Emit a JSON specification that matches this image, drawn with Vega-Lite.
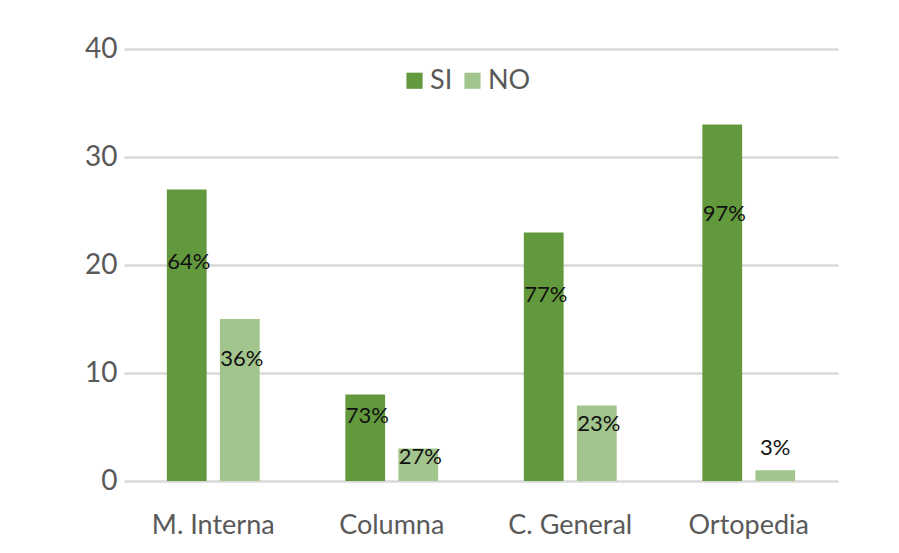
{
  "$schema": "https://vega.github.io/schema/vega-lite/v6.json",
  "width": 714,
  "height": 432,
  "autosize": {"type": "none"},
  "padding": {"left": 124, "top": 49, "right": 61, "bottom": 72},
  "background": "white",
  "config": {
    "font": "Lato",
    "view": {"stroke": null}
  },
  "data": {
    "values": [
      {"servicio": "M. Interna", "respuesta": "SI", "casos": 27, "pct": "64%"},
      {"servicio": "M. Interna", "respuesta": "NO", "casos": 15, "pct": "36%"},
      {"servicio": "Columna", "respuesta": "SI", "casos": 8, "pct": "73%"},
      {"servicio": "Columna", "respuesta": "NO", "casos": 3, "pct": "27%"},
      {"servicio": "C. General", "respuesta": "SI", "casos": 23, "pct": "77%"},
      {"servicio": "C. General", "respuesta": "NO", "casos": 7, "pct": "23%"},
      {"servicio": "Ortopedia", "respuesta": "SI", "casos": 33, "pct": "97%"},
      {"servicio": "Ortopedia", "respuesta": "NO", "casos": 1, "pct": "3%"}
    ]
  },
  "encoding": {
    "x": {
      "field": "servicio",
      "type": "nominal",
      "sort": ["M. Interna", "Columna", "C. General", "Ortopedia"],
      "scale": {"paddingInner": 0.48, "paddingOuter": 0.24},
      "axis": {
        "title": null,
        "labelAngle": 0,
        "domain": false,
        "ticks": false,
        "labelFontSize": 27,
        "labelColor": "#595959",
        "labelPadding": 31
      }
    },
    "xOffset": {
      "field": "respuesta",
      "type": "nominal",
      "sort": ["SI", "NO"],
      "scale": {"paddingInner": 0.25}
    }
  },
  "layer": [
    {
      "mark": {"type": "bar"},
      "encoding": {
        "y": {
          "field": "casos",
          "type": "quantitative",
          "scale": {"domain": [0, 40]},
          "axis": {
            "title": null,
            "values": [0, 10, 20, 30, 40],
            "domain": false,
            "ticks": false,
            "gridColor": "#d9d9d9",
            "gridWidth": 2.5,
            "labelFontSize": 28,
            "labelColor": "#595959",
            "labelPadding": 7
          }
        },
        "color": {
          "field": "respuesta",
          "type": "nominal",
          "sort": ["SI", "NO"],
          "scale": {"domain": ["SI", "NO"], "range": ["#62993c", "#a2c48d"]},
          "legend": {
            "title": null,
            "orient": "none",
            "legendX": 277,
            "legendY": 18,
            "direction": "horizontal",
            "symbolType": "square",
            "symbolSize": 260,
            "symbolStrokeWidth": 0,
            "labelFontSize": 27,
            "labelColor": "#595959",
            "labelOffset": 2,
            "columnPadding": 6
          }
        }
      }
    },
    {
      "transform": [{"filter": "datum.casos > 2"}],
      "mark": {"type": "text", "fontSize": 22, "color": "#111111", "baseline": "middle", "dx": 2},
      "encoding": {
        "y": {
          "field": "casos",
          "type": "quantitative",
          "scale": {"domain": [0, 53.33]},
          "axis": null
        },
        "text": {"field": "pct"}
      }
    },
    {
      "transform": [{"filter": "datum.casos <= 2"}],
      "mark": {"type": "text", "fontSize": 22, "color": "#111111", "baseline": "bottom", "dy": -10},
      "encoding": {
        "y": {
          "field": "casos",
          "type": "quantitative",
          "scale": {"domain": [0, 40]},
          "axis": null
        },
        "text": {"field": "pct"}
      }
    }
  ],
  "resolve": {"scale": {"y": "independent"}}
}
